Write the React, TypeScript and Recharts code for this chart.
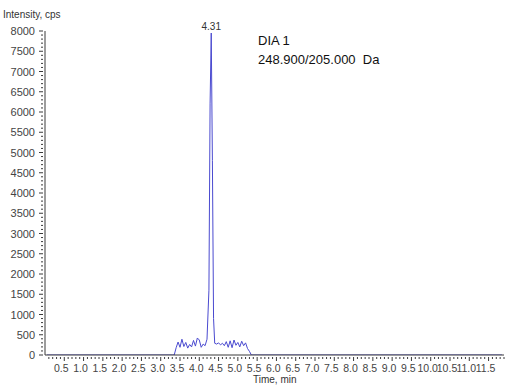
import { Line, LineChart, ReferenceDot, XAxis, YAxis } from "recharts";

// XIC trace for DIA 1 (248.900/205.000 Da).
const times = [
  0.05, 3.3, 3.35, 3.4, 3.45, 3.5, 3.55, 3.6, 3.65, 3.7, 3.75, 3.8, 3.85, 3.9,
  3.95, 4.0, 4.05, 4.1, 4.15, 4.2, 4.25, 4.28, 4.31, 4.34, 4.37, 4.4, 4.45,
  4.5, 4.55, 4.6, 4.65, 4.7, 4.75, 4.8, 4.85, 4.9, 4.95, 5.0, 5.05, 5.1, 5.15,
  5.2, 5.25, 5.3, 5.35, 11.85,
];
const intensity = [
  0, 0, 0, 180, 320, 190, 390, 210, 310, 170, 260, 200, 360, 220, 420, 370,
  190, 270, 230, 390, 1600, 6200, 7950, 4800, 900, 290, 270, 300, 250, 290,
  230, 330, 190, 350, 180, 370, 240, 310, 200, 340, 230, 300, 160, 90, 0, 0,
];
const peakTime = 4.31;
const peakValue = 7950;

const xMajorTicks = [
  0.5, 1.0, 1.5, 2.0, 2.5, 3.0, 3.5, 4.0, 4.5, 5.0, 5.5, 6.0, 6.5, 7.0, 7.5,
  8.0, 8.5, 9.0, 9.5, 10.0, 10.5, 11.0, 11.5,
];
const yMajorTicks = [
  0, 500, 1000, 1500, 2000, 2500, 3000, 3500, 4000, 4500, 5000, 5500, 6000,
  6500, 7000, 7500, 8000,
];

const data = times.map((t, i) => ({ time: t, cps: intensity[i] }));

// minor ticks every 0.1 min / 100 cps, majors get a label
const xTicks: number[] = [];
for (let i = 1; i <= 119; i++) xTicks.push(i / 10);
const yTicks: number[] = [];
for (let i = 0; i <= 80; i++) yTicks.push(i * 100);

const axisColor = "#3a3a3a";
const labelColor = "#444";

function XTick({ x, y, payload }: any) {
  const v = payload.value as number;
  const major = xMajorTicks.some((m) => Math.abs(m - v) < 1e-6);
  return (
    <g>
      <line x1={x} x2={x} y1={y} y2={y + (major ? 4 : 2)} stroke={axisColor} />
      {major && (
        <text x={x - 3} y={y + 15} textAnchor="middle" fontSize={10.5} fill={labelColor}>
          {v.toFixed(1)}
        </text>
      )}
    </g>
  );
}

function YTick({ x, y, payload }: any) {
  const v = payload.value as number;
  const major = yMajorTicks.includes(v);
  return (
    <g>
      <line x1={x} x2={x - (major ? 4 : 2)} y1={y} y2={y} stroke={axisColor} />
      {major && (
        <text x={x - 8} y={y + 4} textAnchor="end" fontSize={11} fill={labelColor}>
          {v}
        </text>
      )}
    </g>
  );
}

export default function App() {
  return (
    <div
      style={{
        position: "absolute",
        left: 0,
        top: 0,
        width: 505,
        height: 387,
        background: "#fff",
        fontFamily: "'Liberation Sans', Arial, sans-serif",
      }}
    >
      <LineChart
        width={505}
        height={387}
        data={data}
        margin={{ top: 31, right: 1, bottom: 0, left: 0 }}
      >
        <XAxis
          dataKey="time"
          type="number"
          domain={[0, 11.9]}
          ticks={xTicks}
          interval={0}
          tick={<XTick />}
          tickLine={false}
          tickSize={0}
          height={32}
          stroke={axisColor}
          allowDataOverflow
        />
        <YAxis
          type="number"
          domain={[0, 8000]}
          ticks={yTicks}
          interval={0}
          tick={<YTick />}
          tickLine={false}
          tickSize={0}
          width={45}
          stroke={axisColor}
          allowDataOverflow
        />
        <Line
          type="linear"
          dataKey="cps"
          stroke="#4a4ad0"
          strokeWidth={1}
          dot={false}
          isAnimationActive={false}
        />
        <ReferenceDot
          x={peakTime}
          y={peakValue}
          r={0}
          label={{ value: "4.31", position: "top", fontSize: 10, fill: "#333", offset: 3 }}
        />
      </LineChart>
      <div
        style={{ position: "absolute", left: 3, top: 9, fontSize: 10, lineHeight: "11px", color: "#333" }}
      >
        Intensity, cps
      </div>
      <div
        style={{ position: "absolute", left: 253, top: 374, fontSize: 10, lineHeight: "11px", color: "#333" }}
      >
        Time, min
      </div>
      <div
        style={{
          position: "absolute",
          left: 258,
          top: 31,
          fontSize: 13,
          lineHeight: "19px",
          color: "#111",
        }}
      >
        DIA 1
        <br />
        248.900/205.000&nbsp; Da
      </div>
    </div>
  );
}
